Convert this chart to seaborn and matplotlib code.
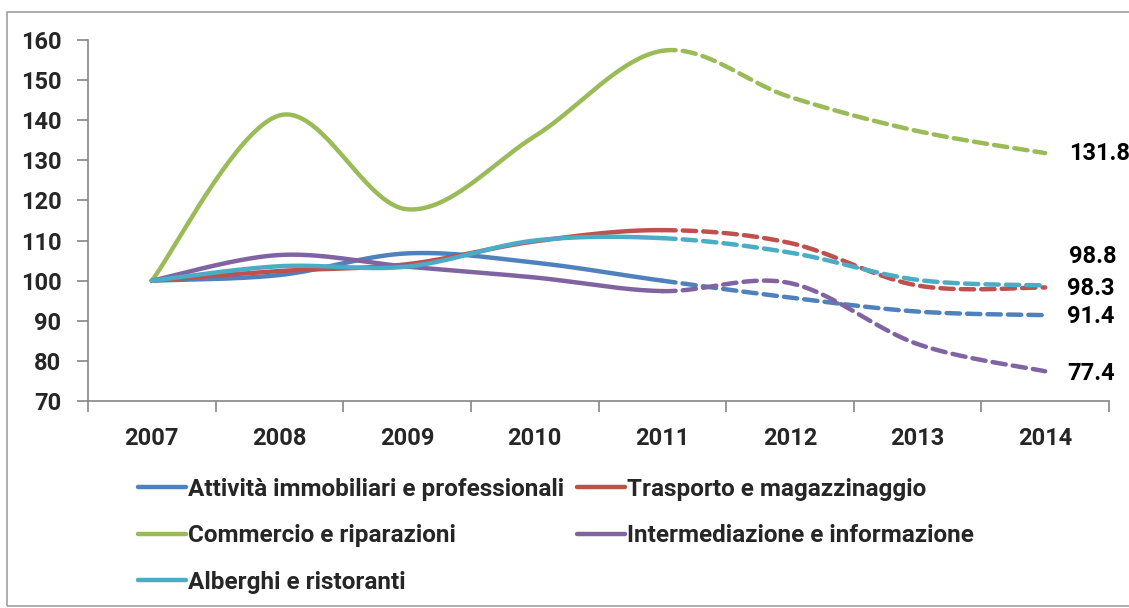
import numpy as np
import pandas as pd
import matplotlib
matplotlib.use("Agg")
import matplotlib.pyplot as plt
from matplotlib.lines import Line2D
from matplotlib.patches import Rectangle
import seaborn as sns

# data (index 2007 = 100), 2012-2014 are forecasts (dashed)
years = [2007, 2008, 2009, 2010, 2011, 2012, 2013, 2014]
attivita = [100, 101.4, 106.8, 104.5, 100.0, 95.8, 92.3, 91.4]
trasporto = [100, 102.4, 104.1, 109.8, 112.6, 109.4, 98.8, 98.3]
commercio = [100, 141.2, 117.8, 136.0, 157.3, 145.8, 137.3, 131.8]
intermediazione = [100, 106.4, 103.5, 100.8, 97.4, 99.4, 84.2, 77.4]
alberghi = [100, 103.6, 103.5, 110.0, 110.6, 107.0, 100.2, 98.8]

names = ["Attività immobiliari e professionali", "Trasporto e magazzinaggio",
         "Commercio e riparazioni", "Intermediazione e informazione",
         "Alberghi e ristoranti"]
series = [attivita, trasporto, commercio, intermediazione, alberghi]
colors = ["#4F81BD", "#C0504D", "#9BBB59", "#8064A2", "#4BACC6"]
last_actual = 2011


def smooth(xs, ys, n=40):
    # Excel-like smoothed line: cubic Bezier with Catmull-Rom control points
    p = np.column_stack([xs, ys]).astype(float)
    p_ext = np.vstack([p[0], p, p[-1]])
    out = []
    t = np.linspace(0, 1, n)[:, None]
    for i in range(len(p) - 1):
        p0, p1, p2, p3 = p_ext[i], p_ext[i + 1], p_ext[i + 2], p_ext[i + 3]
        c1 = p1 + (p2 - p0) / 6
        c2 = p2 - (p3 - p1) / 6
        seg = ((1 - t) ** 3) * p1 + 3 * ((1 - t) ** 2) * t * c1 + 3 * (1 - t) * t ** 2 * c2 + t ** 3 * p2
        out.append(seg if i == 0 else seg[1:])
    out = np.vstack(out)
    return out[:, 0], out[:, 1]


sns.set_theme(style="white")
plt.rcParams["font.family"] = ["Roboto", "DejaVu Sans"]
plt.rcParams["font.weight"] = "bold"
FS = 17
LEG_FS = 17.5

fig = plt.figure(figsize=(11.29, 6.08), dpi=100)
ax = fig.add_axes([88 / 1129, 1 - 401 / 608, (1109 - 88) / 1129, (401 - 40) / 608])

for name, vals, col in zip(names, series, colors):
    sx, sy = smooth(years, vals)
    df = pd.DataFrame({"year": sx, "value": sy})
    solid = df[df["year"] <= last_actual]
    dashed = df[df["year"] >= last_actual]
    sns.lineplot(data=solid, x="year", y="value", color=col, linewidth=3.2,
                 sort=False, ax=ax, solid_capstyle="round")
    sns.lineplot(data=dashed, x="year", y="value", color=col, linewidth=3.2,
                 sort=False, ax=ax, dashes=False, linestyle=(0, (3, 1.6)),
                 dash_capstyle="round")

# end labels
label_offsets = {
    "Commercio e riparazioni": (17, 0),
    "Alberghi e ristoranti": (17, 21),
    "Trasporto e magazzinaggio": (16, -0.5),
    "Attività immobiliari e professionali": (16, -1.2),
    "Intermediazione e informazione": (16, -1.5),
}
for name, vals in zip(names, series):
    ax.annotate(f"{vals[-1]:.1f}", xy=(years[-1], vals[-1]),
                xytext=label_offsets[name], textcoords="offset points",
                ha="left", va="center", fontsize=FS, fontweight="bold",
                color="black", annotation_clip=False)

ax.set_xlim(2006.5, 2014.5)
ax.set_ylim(70, 160)
ax.set_yticks(range(70, 161, 10))
ax.set_xticks(years)
ax.set_xticklabels([str(y) for y in years])
ax.set_xticks(np.arange(2006.5, 2015, 1), minor=True)
ax.tick_params(axis="x", which="major", length=0, pad=19, labelsize=FS)
ax.tick_params(axis="x", which="minor", length=8, width=1.2, color="#868686",
               direction="out", bottom=True)
ax.tick_params(axis="y", length=8, width=1.2, color="#868686", direction="out",
               left=True, pad=11, labelsize=FS)
for lab in ax.get_xticklabels() + ax.get_yticklabels():
    lab.set_fontweight("bold")
ax.set_xlabel("")
ax.set_ylabel("")
for side in ["top", "right"]:
    ax.spines[side].set_visible(False)
for side in ["left", "bottom"]:
    ax.spines[side].set_color("#868686")
    ax.spines[side].set_linewidth(1.2)

handles = [Line2D([0], [0], color=c, linewidth=3.2) for c in colors]
order = [0, 2, 4, 1, 3]
fig.legend([handles[i] for i in order], [names[i] for i in order],
           ncol=2, loc="upper left", bbox_to_anchor=(128 / 1129, 1 - 468 / 608),
           frameon=False, prop={"weight": "bold", "size": LEG_FS},
           handlelength=2.0, handletextpad=0.08, columnspacing=0.5,
           labelspacing=0.97, borderaxespad=0)

fig.patches.append(Rectangle((7 / 1129, 2 / 608), 1.2, 1 - 14 / 608,
                             transform=fig.transFigure, fill=False,
                             edgecolor="#A0A0A0", linewidth=1.2))

fig.savefig("out.png", dpi=100)
